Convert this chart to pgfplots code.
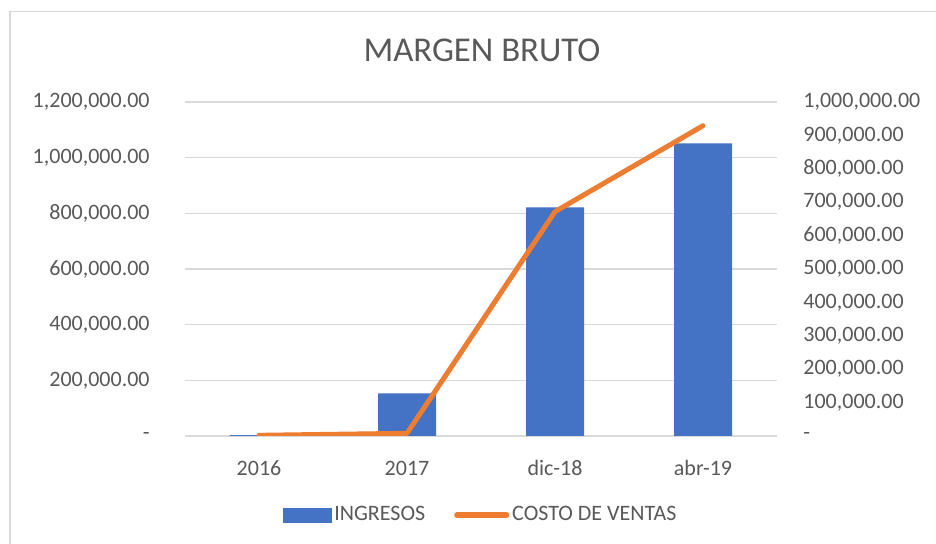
\documentclass[border=0pt]{standalone}
\usepackage{fontspec}
\setmainfont{Carlito}
\usepackage{pgfplots}
\pgfplotsset{compat=1.18}
\definecolor{barblue}{HTML}{4472C4}
\definecolor{lineorange}{HTML}{ED7D31}
\definecolor{gridgray}{HTML}{D9D9D9}
\definecolor{txtgray}{HTML}{595959}
\begin{document}
\begin{tikzpicture}
\path[use as bounding box] (0,0) rectangle (468bp,272bp);
\draw[gridgray, line width=0.75bp] (5bp,0) -- (5bp,266.25bp) -- (468bp,266.25bp);
\node[text=txtgray, font=\fontsize{17.4bp}{21bp}\selectfont] at (241bp,247bp) {MARGEN BRUTO};
\begin{axis}[
  at={(92.5bp,54bp)}, anchor=south west, scale only axis, width=296bp, height=167bp,
  xmin=-0.5, xmax=3.5, ymin=0, ymax=1200000,
  xtick={0,1,2,3}, xticklabels={2016,2017,dic-18,abr-19},
  ytick={0,200000,400000,600000,800000,1000000,1200000},
  yticklabels={{-\hspace{6bp}},{200,000.00},{400,000.00},{600,000.00},{800,000.00},{1,000,000.00},{1,200,000.00}},
  scaled y ticks=false,
  major tick length=0pt,
  ymajorgrids, grid style={gridgray, line width=0.75bp},
  axis y line*=left, axis x line*=bottom,
  x axis line style={gridgray, line width=0.75bp, -},
  y axis line style={draw=none},
  tick label style={font=\fontsize{11bp}{13bp}\selectfont, text=txtgray},
  yticklabel style={anchor=east, inner sep=0pt, xshift=-17.5bp},
  xticklabel style={anchor=base, inner sep=0pt, yshift=-20bp},
  ybar, bar width=29bp,
]
\addplot[fill=barblue, draw=none] coordinates {(0,3000) (1,153400) (2,821700) (3,1051600)};
\end{axis}
\begin{axis}[
  at={(92.5bp,54bp)}, anchor=south west, scale only axis, width=296bp, height=167bp,
  xmin=-0.5, xmax=3.5, ymin=0, ymax=1000000,
  axis x line=none, axis y line*=right,
  y axis line style={draw=none},
  ytick={0,100000,200000,300000,400000,500000,600000,700000,800000,900000,1000000},
  yticklabels={{-},{100,000.00},{200,000.00},{300,000.00},{400,000.00},{500,000.00},{600,000.00},{700,000.00},{800,000.00},{900,000.00},{1,000,000.00}},
  scaled y ticks=false,
  major tick length=0pt,
  tick label style={font=\fontsize{11bp}{13bp}\selectfont, text=txtgray},
  yticklabel style={anchor=west, inner sep=0pt, xshift=13bp},
  legend style={at={([yshift=-39.5bp]axis description cs:0.5,0)}, anchor=center, draw=none,
    legend columns=2, font=\fontsize{11bp}{13bp}\selectfont, text=txtgray,
    nodes={inner sep=1.5bp},
    /tikz/every even column/.append style={column sep=13bp}},
]
\addlegendimage{legend image code/.code={\fill[barblue] (0bp,-3.5bp) rectangle (24bp,3.5bp);}}
\addlegendentry{INGRESOS}
\addplot[lineorange, line width=2.5bp, line cap=round, line join=round,
  legend image code/.code={\draw[lineorange, line width=2.5bp, line cap=round] (0bp,0bp) -- (25bp,0bp);}]
  coordinates {(0,2000) (1,8000) (2,671600) (3,929000)};
\addlegendentry{COSTO DE VENTAS}
\end{axis}
\end{tikzpicture}
\end{document}
